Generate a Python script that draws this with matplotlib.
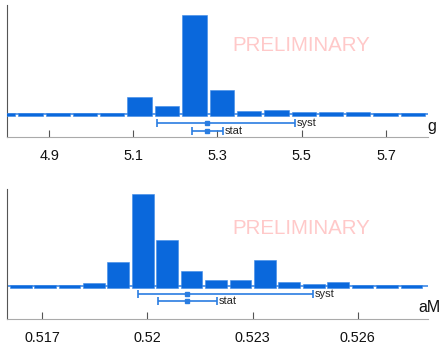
import matplotlib
matplotlib.use("Agg")
import matplotlib.pyplot as plt

plt.rcParams['font.family'] = ['Liberation Sans', 'DejaVu Sans']

# ---- data: parameter g ----
g_centers = [4.791, 4.856, 4.921, 4.986, 5.050, 5.115, 5.180, 5.245, 5.310,
             5.375, 5.440, 5.505, 5.569, 5.634, 5.699, 5.764]
g_heights = [2.5, 3, 3, 3, 3, 18.8, 9.8, 100.5, 25.5, 4.5, 5.2, 3.2, 3.8, 3.2, 2.8, 2.8]
g_bin_width = 0.0649
g_center_val = 5.2758
g_syst = (5.1556, 5.4834)
g_stat = (5.2387, 5.3138)
g_ticks = [4.9, 5.1, 5.3, 5.5, 5.7]
g_ticklabels = ['4.9', '5.1', '5.3', '5.5', '5.7']
g_xlim = (4.8, 5.8)

# ---- data: parameter aM ----
am_centers = [0.516390, 0.517086, 0.517782, 0.518478, 0.519174, 0.519870, 0.520566,
              0.521262, 0.521958, 0.522654, 0.523350, 0.524046, 0.524742, 0.525438,
              0.526134, 0.526830, 0.527526]
am_heights = [2.5, 2.5, 2.8, 4.5, 25.5, 93.2, 47.2, 16.5, 7.8, 7.2, 27.2, 5.5, 3.8,
              5.2, 2.5, 2.8, 2.5]
am_bin_width = 0.000696
am_center_val = 0.521139
am_syst = (0.519743, 0.524714)
am_stat = (0.520296, 0.521977)
am_ticks = [0.517, 0.520, 0.523, 0.526]
am_ticklabels = ['0.517', '0.52', '0.523', '0.526']
am_xlim = (0.516, 0.528)

BAR = '#0a68dc'
ERR = '#2a7de1'

fig = plt.figure(figsize=(4.44, 3.44), dpi=100)
ax1 = fig.add_axes([7/444, 1-137/344, 421/444, 132/344])
ax2 = fig.add_axes([7/444, 1-318.7/344, 421/444, 130/344])


def panel(ax, centers, heights, width, cval, syst, stat, ticks, labels, xlim, ylim,
          ysyst, ystat, ms, name, name_xy):
    ax.bar(centers, heights, width=width*0.89, color=BAR, edgecolor='#3f8ae6',
           linewidth=0.4, zorder=3)
    ax.axhline(1.2, color='#3f8ae6', lw=1.2, zorder=2)
    # syst error bar
    ax.errorbar([cval], [ysyst], xerr=[[cval-syst[0]], [syst[1]-cval]], fmt='s',
                color=ERR, ms=ms, lw=1.2, capsize=2.6, capthick=1.2, zorder=4)
    ax.errorbar([cval], [ystat], xerr=[[cval-stat[0]], [stat[1]-cval]], fmt='s',
                color=ERR, ms=ms, lw=1.2, capsize=2.6, capthick=1.2, zorder=4)
    dx = (xlim[1]-xlim[0]) * 0.004
    ax.text(syst[1]+dx, ysyst, 'syst', fontsize=8, color='#222222',
            ha='left', va='center')
    ax.text(stat[1]+dx, ystat, 'stat', fontsize=8, color='#222222',
            ha='left', va='center')
    ax.text(0.6995, 0.695, 'PRELIMINARY', transform=ax.transAxes, fontsize=14.8,
            color='#ffc9c9', ha='center', va='center')
    ax.set_xlim(*xlim)
    ax.set_ylim(*ylim)
    ax.set_xticks(ticks)
    ax.set_xticklabels(labels, fontsize=10.4, color='#111111')
    ax.set_yticks([])
    ax.tick_params(axis='x', direction='in', length=5, width=0.8, color='#555555', pad=9)
    for s in ('top', 'right'):
        ax.spines[s].set_visible(False)
    ax.spines['left'].set_color('#555555')
    ax.spines['left'].set_linewidth(0.8)
    ax.spines['bottom'].set_color('#aaaaaa')
    ax.spines['bottom'].set_linewidth(0.8)
    ax.patch.set_alpha(0)
    fig.text(name_xy[0]/444, 1-name_xy[1]/344, name, fontsize=11.5, color='#111111',
             ha='center', va='center')


panel(ax1, g_centers, g_heights, g_bin_width, g_center_val, g_syst, g_stat,
      g_ticks, g_ticklabels, g_xlim, (-21.5, 110.5), -7.2, -15.2, 2.6, 'g', (432, 127))
panel(ax2, am_centers, am_heights, am_bin_width, am_center_val, am_syst, am_stat,
      am_ticks, am_ticklabels, am_xlim, (-31.2, 98.8), -6.8, -13.8, 3.3, 'aM', (429, 308))

fig.savefig('out.png', dpi=100)
